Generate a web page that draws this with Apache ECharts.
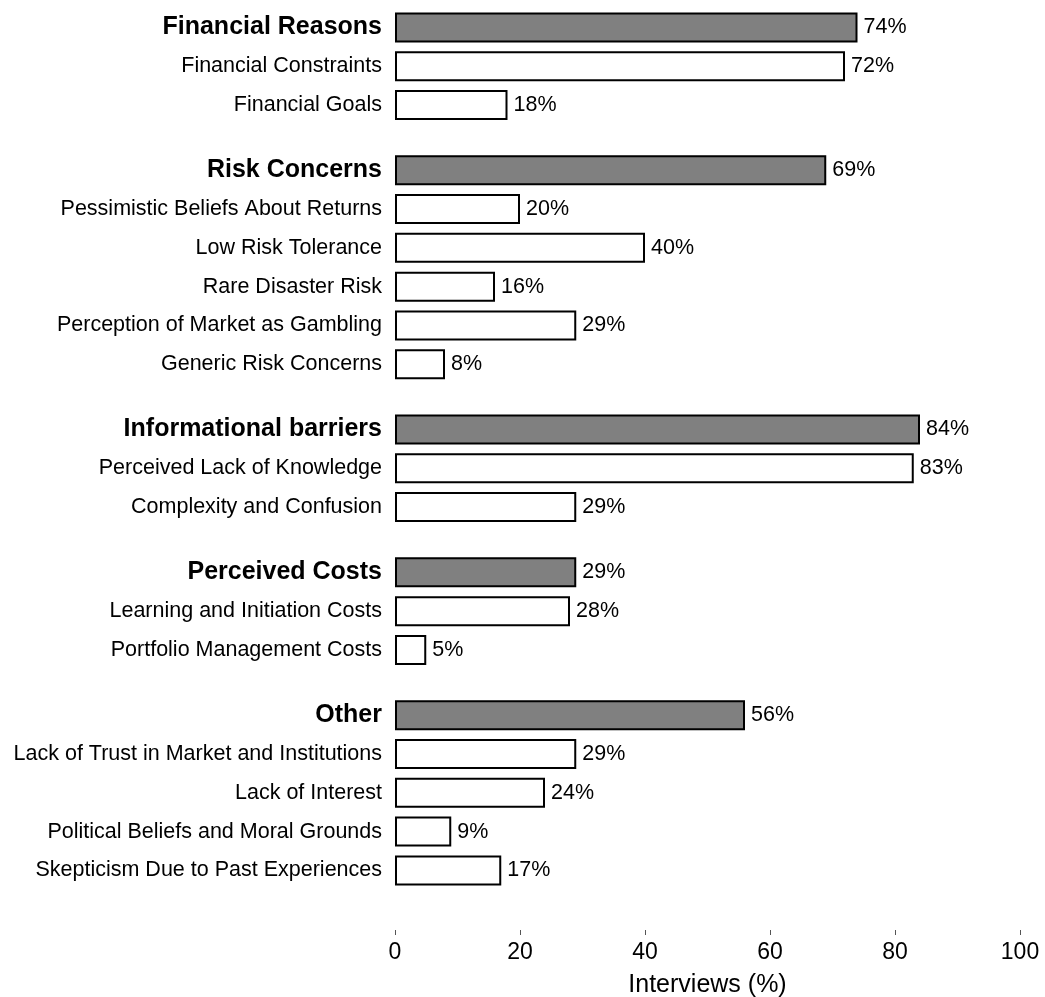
<!DOCTYPE html>
<html>
<head>
<meta charset="utf-8">
<script src="https://cdn.jsdelivr.net/npm/echarts@6/dist/echarts.min.js"></script>
<style>
  html, body { margin: 0; padding: 0; background: #fff; }
  #chart { width: 1045px; height: 997px; }
</style>
</head>
<body>
<div id="chart"></div>
<script>
// ---- Data ----
const groupTitles = ['Financial Reasons', 'Risk Concerns', 'Informational barriers', 'Perceived Costs', 'Other'];
const groupTotals = [74, 69, 84, 29, 56];

const financialLabels = ['Financial Constraints', 'Financial Goals'];
const financialValues = [72, 18];

const riskLabels = ['Pessimistic Beliefs About Returns', 'Low Risk Tolerance', 'Rare Disaster Risk', 'Perception of Market as Gambling', 'Generic Risk Concerns'];
const riskValues = [20, 40, 16, 29, 8];

const infoLabels = ['Perceived Lack of Knowledge', 'Complexity and Confusion'];
const infoValues = [83, 29];

const costLabels = ['Learning and Initiation Costs', 'Portfolio Management Costs'];
const costValues = [28, 5];

const otherLabels = ['Lack of Trust in Market and Institutions', 'Lack of Interest', 'Political Beliefs and Moral Grounds', 'Skepticism Due to Past Experiences'];
const otherValues = [29, 24, 9, 17];

const xTicks = [0, 20, 40, 60, 80, 100];
const xAxisName = 'Interviews (%)';

// ---- Build ----
(function () {
  const subLabels = [financialLabels, riskLabels, infoLabels, costLabels, otherLabels];
  const subValues = [financialValues, riskValues, infoValues, costValues, otherValues];

  const FONT = '"Liberation Sans", Arial, Helvetica, sans-serif';
  const rowPitch = 38.8;
  const groupGap = 26.45;
  const firstTop = 8;
  const gridLeft = 395;
  const gridRight = 25;

  const grids = [], xAxes = [], yAxes = [], series = [];
  let gridTop = firstTop;
  groupTitles.forEach((title, g) => {
    const cats = [title].concat(subLabels[g]);
    const vals = [groupTotals[g]].concat(subValues[g]);
    const h = cats.length * rowPitch;
    const isLast = g === groupTitles.length - 1;
    grids.push({ left: gridLeft, right: gridRight, top: gridTop, height: h, containLabel: false, outerBoundsMode: 'none' });
    xAxes.push({
      type: 'value', gridIndex: g, min: xTicks[0], max: xTicks[xTicks.length - 1],
      interval: xTicks[1] - xTicks[0],
      show: isLast,
      offset: isLast ? 40.2 : 0,
      axisLine: { show: false },
      axisTick: { show: true, length: 5, lineStyle: { color: '#555', width: 1 } },
      splitLine: { show: false },
      axisLabel: { fontFamily: FONT, fontSize: 23, color: '#000', margin: 11 },
      name: isLast ? xAxisName : '',
      nameLocation: 'middle',
      nameGap: 43,
      nameTextStyle: { fontFamily: FONT, fontSize: 25, color: '#000' }
    });
    yAxes.push({
      type: 'category', gridIndex: g, data: cats, inverse: true,
      axisLine: { show: false }, axisTick: { show: false }, splitLine: { show: false },
      axisLabel: {
        interval: 0, margin: 13, fontFamily: FONT, fontSize: 21.5, color: '#000',
        formatter: (v, i) => i === 0 ? '{b|' + v + '}' : v,
        rich: { b: { fontFamily: FONT, fontSize: 25, fontWeight: 'bold', color: '#000' } }
      }
    });
    series.push({
      type: 'bar', xAxisIndex: g, yAxisIndex: g,
      barWidth: 30,
      data: vals.map((v, i) => ({
        value: v,
        itemStyle: { color: i === 0 ? '#808080' : '#ffffff', borderColor: '#000', borderWidth: 2 }
      })),
      label: {
        show: true, position: 'right', distance: 6,
        formatter: '{c}%', fontFamily: FONT, fontSize: 21.5, color: '#000'
      },
      animation: false
    });
    gridTop += h + groupGap;
  });

  const chart = echarts.init(document.getElementById('chart'), null, { renderer: 'canvas' });
  chart.setOption({
    animation: false,
    backgroundColor: '#fff',
    grid: grids,
    xAxis: xAxes,
    yAxis: yAxes,
    series: series
  });
})();
</script>
</body>
</html>
